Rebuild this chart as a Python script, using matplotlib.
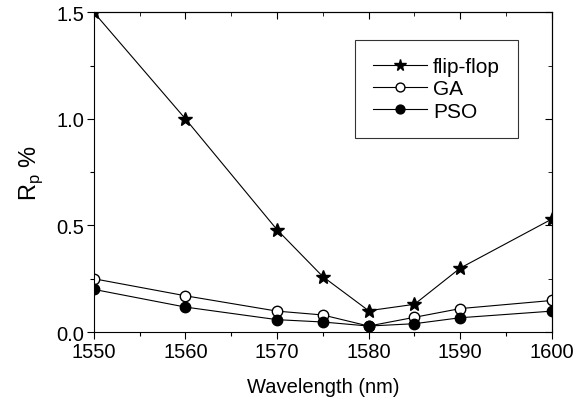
import matplotlib
matplotlib.use('Agg')
import matplotlib.pyplot as plt
from matplotlib.ticker import MultipleLocator

# data
wavelength = [1550, 1560, 1570, 1575, 1580, 1585, 1590, 1600]
flip_flop = [1.50, 1.00, 0.48, 0.26, 0.10, 0.13, 0.30, 0.53]
ga = [0.25, 0.17, 0.098, 0.08, 0.028, 0.069, 0.11, 0.148]
pso = [0.20, 0.117, 0.058, 0.047, 0.028, 0.039, 0.067, 0.098]

plt.rcParams['font.family'] = ['Liberation Sans', 'DejaVu Sans']

fig = plt.figure(figsize=(5.87, 4.02), dpi=100)
ax = fig.add_axes([0.160, 0.1716, 0.780, 0.795])

ax.plot(wavelength, flip_flop, color='black', lw=0.8, marker='*', ms=10,
        mfc='black', mec='black', label='flip-flop')
ax.plot(wavelength, ga, color='black', lw=0.8, marker='o', ms=7.5,
        mfc='white', mec='black', label='GA')
ax.plot(wavelength, pso, color='black', lw=0.8, marker='o', ms=7.5,
        mfc='black', mec='black', label='PSO')

ax.set_xlim(1550, 1600)
ax.set_ylim(0, 1.5)
ax.xaxis.set_major_locator(MultipleLocator(10))
ax.xaxis.set_minor_locator(MultipleLocator(5))
ax.yaxis.set_major_locator(MultipleLocator(0.5))
ax.yaxis.set_minor_locator(MultipleLocator(0.25))
ax.yaxis.set_major_formatter(matplotlib.ticker.FormatStrFormatter('%.1f'))

ax.tick_params(which='both', direction='out', top=False, right=False, labelsize=14.5)
ax.tick_params(which='major', length=5, width=0.8, pad=2)
ax.tick_params(which='minor', length=3, width=0.8)
# origin-style inward ticks on top and right
ax2 = ax.secondary_xaxis('top')
ax2.xaxis.set_major_locator(MultipleLocator(10))
ax2.xaxis.set_minor_locator(MultipleLocator(5))
ax2.tick_params(which='both', direction='in', labeltop=False)
ax2.tick_params(which='major', length=5)
ax2.tick_params(which='minor', length=3)
ay2 = ax.secondary_yaxis('right')
ay2.yaxis.set_major_locator(MultipleLocator(0.5))
ay2.yaxis.set_minor_locator(MultipleLocator(0.25))
ay2.tick_params(which='both', direction='in', labelright=False)
ay2.tick_params(which='major', length=5)
ay2.tick_params(which='minor', length=3)

ax.set_xlabel('Wavelength (nm)', fontsize=14.5, labelpad=12)
ax.set_ylabel('R$_\\mathregular{p}$ %', fontsize=17, labelpad=8)

leg = ax.legend(loc='upper left', bbox_to_anchor=(0.57, 0.915), fontsize=15,
                frameon=True, fancybox=False, edgecolor='black',
                handlelength=2.6, borderpad=0.85, labelspacing=0.15,
                handletextpad=0.3, borderaxespad=0, markerscale=0.85)
leg.get_frame().set_linewidth(0.8)

fig.savefig('out.png', dpi=100)
